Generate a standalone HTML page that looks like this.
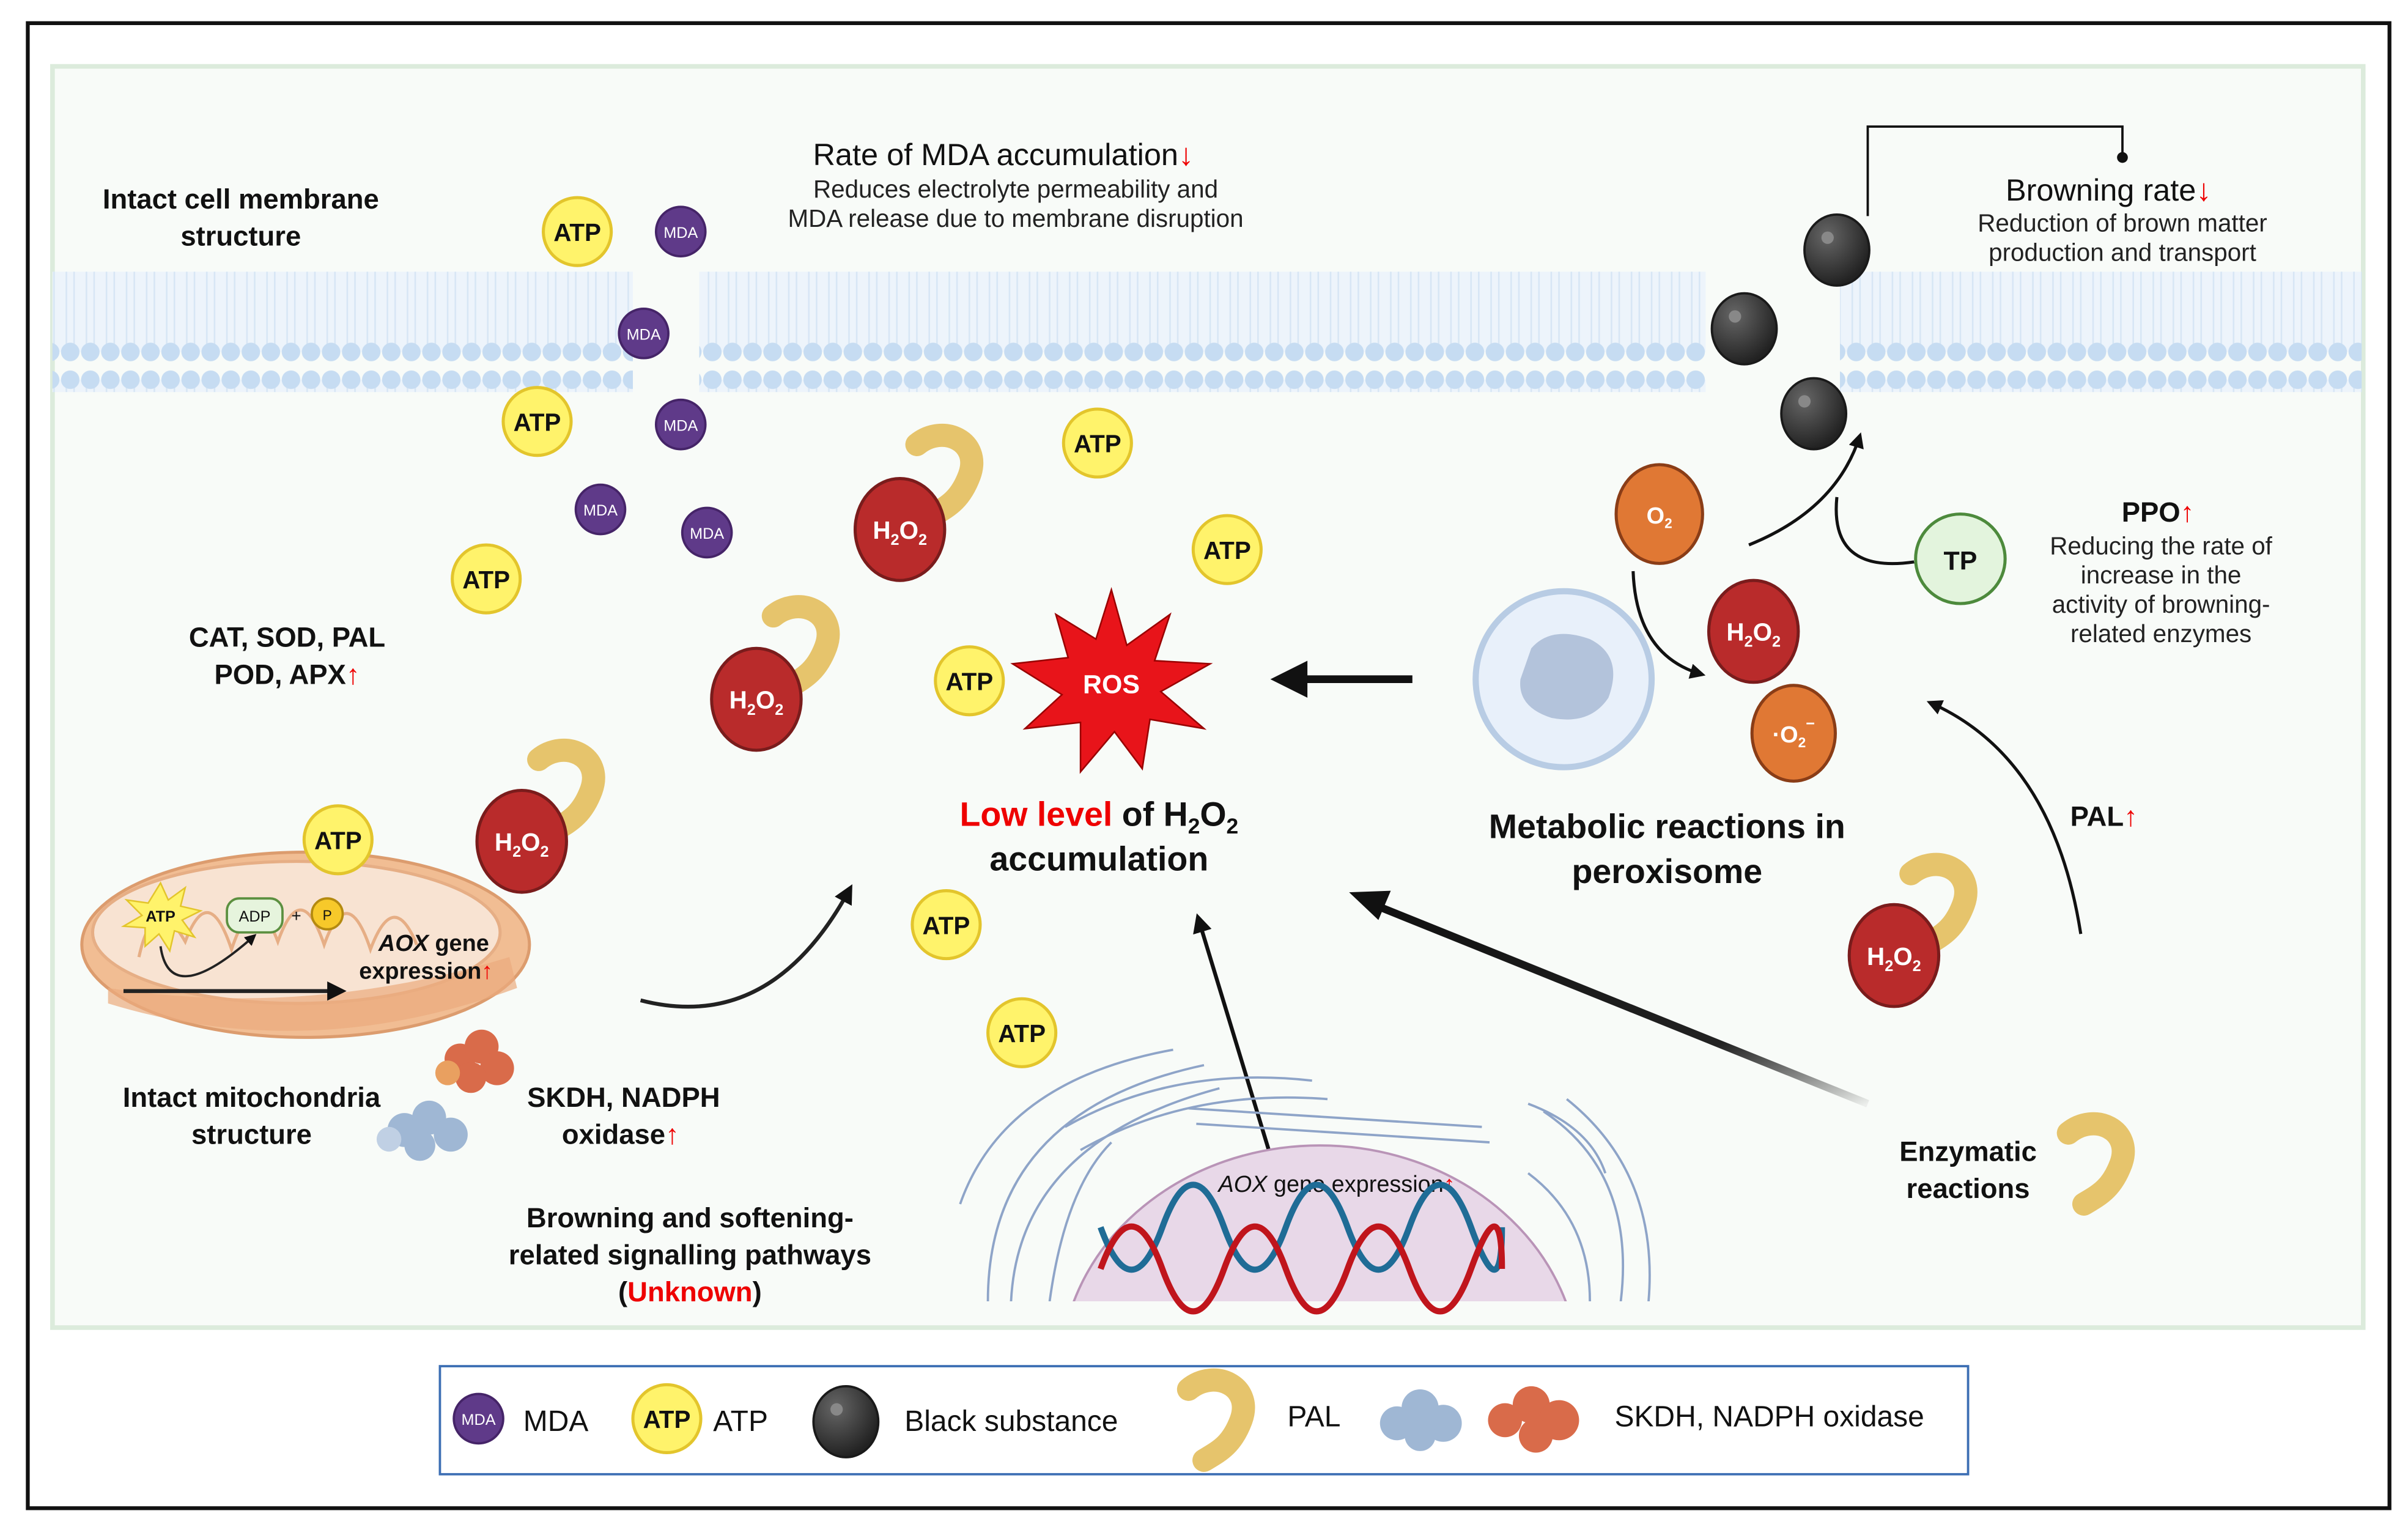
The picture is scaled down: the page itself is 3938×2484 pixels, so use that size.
<!DOCTYPE html>
<html><head><meta charset="utf-8"><style>
html,body{margin:0;padding:0;background:#fff;width:3938px;height:2484px;overflow:hidden}
svg{display:block;position:absolute;left:0;top:0}
text{font-family:"Liberation Sans",sans-serif}
</style></head><body>
<svg width="3938" height="2484" viewBox="0 0 1560 984" preserveAspectRatio="none" xmlns="http://www.w3.org/2000/svg">
<defs>
<pattern id="dots" x="0" y="0" width="13" height="80" patternUnits="userSpaceOnUse">
<rect x="0" y="6" width="13" height="62" fill="#edf4fb"/>
<line x1="4" y1="8" x2="4" y2="66" stroke="#d7e6f5" stroke-width="1"/>
<line x1="9" y1="8" x2="9" y2="66" stroke="#d7e6f5" stroke-width="1"/>
<circle cx="6.5" cy="6" r="6" fill="#c6dcf2"/>
<circle cx="6.5" cy="68" r="6" fill="#c6dcf2"/>
</pattern>
<radialGradient id="blk" cx="0.35" cy="0.3" r="0.7"><stop offset="0" stop-color="#666"/><stop offset="1" stop-color="#222"/></radialGradient>
<linearGradient id="fade" x1="1" y1="1" x2="0" y2="0"><stop offset="0" stop-color="#000" stop-opacity="0.05"/><stop offset="0.3" stop-color="#222"/><stop offset="1" stop-color="#111"/></linearGradient>
<marker id="ah" viewBox="0 0 10 10" refX="8" refY="5" markerWidth="5" markerHeight="5" orient="auto"><path d="M0,0 L10,5 L0,10 z" fill="#111"/></marker>
<g id="atp"><circle r="22" fill="#fff36b" stroke="#e3c52c" stroke-width="2"/><text y="6" text-anchor="middle" font-size="16" font-weight="bold" fill="#111">ATP</text></g>
<g id="mda"><circle r="16" fill="#5f3a89" stroke="#452468" stroke-width="1.5"/><text y="4" text-anchor="middle" font-size="10" fill="#fff">MDA</text></g>
<g id="h2o2"><ellipse rx="29" ry="33" fill="#b92b2b" stroke="#7a1c1c" stroke-width="2"/><text y="6" text-anchor="middle" font-size="16" font-weight="bold" fill="#fff">H<tspan font-size="10" dy="4">2</tspan><tspan dy="-4">O</tspan><tspan font-size="10" dy="4">2</tspan></text></g>
<g id="pal"><path d="M-12,-18 C5,-32 30,-20 22,2 C16,18 8,22 -2,28" fill="none" stroke="#e6c46c" stroke-width="15" stroke-linecap="round"/></g>
<g id="ball"><ellipse rx="21" ry="23" fill="url(#blk)" stroke="#1a1a1a" stroke-width="1.5"/><circle cx="-6" cy="-8" r="4" fill="#888"/></g>
</defs>
<rect x="0" y="0" width="1560" height="984" fill="#fff"/>
<rect x="18" y="15" width="1530" height="962" fill="#fff" stroke="#111" stroke-width="2.5"/>
<rect x="34" y="43" width="1497" height="817" fill="#f8fbf8" stroke="#dcebdc" stroke-width="3"/>
<rect x="34" y="176" width="376" height="78" fill="url(#dots)"/>
<rect x="453" y="176" width="652" height="78" fill="url(#dots)"/>
<rect x="1192" y="176" width="338" height="78" fill="url(#dots)"/>
<text x="156" y="135" text-anchor="middle" font-size="18" font-weight="bold" fill="#111">Intact cell membrane</text>
<text x="156" y="159" text-anchor="middle" font-size="18" font-weight="bold" fill="#111">structure</text>
<text x="650" y="107" text-anchor="middle" font-size="20" fill="#111">Rate of MDA accumulation<tspan fill="#e00" font-weight="bold">↓</tspan></text>
<text x="658" y="128" text-anchor="middle" font-size="16" fill="#222">Reduces electrolyte permeability and</text>
<text x="658" y="147" text-anchor="middle" font-size="16" fill="#222">MDA release due to membrane disruption</text>
<path d="M1210,140 V82 H1375 V102" fill="none" stroke="#111" stroke-width="1.5"/>
<circle cx="1375" cy="102" r="3.5" fill="#111"/>
<text x="1366" y="130" text-anchor="middle" font-size="20" fill="#111">Browning rate<tspan fill="#e00" font-weight="bold">↓</tspan></text>
<text x="1375" y="150" text-anchor="middle" font-size="16" fill="#222">Reduction of brown matter</text>
<text x="1375" y="169" text-anchor="middle" font-size="16" fill="#222">production and transport</text>
<text x="1398" y="338" text-anchor="middle" font-size="18" font-weight="bold" fill="#111">PPO<tspan fill="#e00">↑</tspan></text>
<text x="1400" y="359" text-anchor="middle" font-size="16" fill="#222">Reducing the rate of</text>
<text x="1400" y="378" text-anchor="middle" font-size="16" fill="#222">increase in the</text>
<text x="1400" y="397" text-anchor="middle" font-size="16" fill="#222">activity of browning-</text>
<text x="1400" y="416" text-anchor="middle" font-size="16" fill="#222">related enzymes</text>
<text x="186" y="419" text-anchor="middle" font-size="18" font-weight="bold" fill="#111">CAT, SOD, PAL</text>
<text x="186" y="443" text-anchor="middle" font-size="18" font-weight="bold" fill="#111">POD, APX<tspan fill="#e00">↑</tspan></text>
<text x="1363" y="535" text-anchor="middle" font-size="18" font-weight="bold" fill="#111">PAL<tspan fill="#e00">↑</tspan></text>
<path d="M415,648 Q500,670 551,575" fill="none" stroke="#222" stroke-width="2.5" marker-end="url(#ah)"/>
<path d="M825,755 L776,594" fill="none" stroke="#111" stroke-width="2.5" marker-end="url(#ah)"/>
<path d="M1210,715 L890,586" fill="none" stroke="url(#fade)" stroke-width="5"/>
<path d="M874,578 L901,577 L893,596 z" fill="#111"/>
<path d="M915,440 L838,440" stroke="#111" stroke-width="5"/>
<path d="M823,440 L847,428 L847,452 z" fill="#111"/>
<path d="M1133,353 Q1190,330 1205,282" fill="none" stroke="#111" stroke-width="2" marker-end="url(#ah)"/>
<path d="M1240,364 Q1185,372 1190,322" fill="none" stroke="#111" stroke-width="2"/>
<path d="M1058,370 Q1060,425 1103,437" fill="none" stroke="#111" stroke-width="2" marker-end="url(#ah)"/>
<path d="M1348,605 Q1330,490 1250,455" fill="none" stroke="#111" stroke-width="2" marker-end="url(#ah)"/>
<use href="#atp" x="374" y="150"/><use href="#atp" x="348" y="273"/><use href="#atp" x="315" y="375"/>
<use href="#atp" x="711" y="287"/><use href="#atp" x="795" y="356"/><use href="#atp" x="628" y="441"/>
<use href="#atp" x="613" y="599"/><use href="#atp" x="662" y="669"/>
<use href="#mda" x="441" y="150"/><use href="#mda" x="417" y="216"/><use href="#mda" x="441" y="275"/>
<use href="#mda" x="389" y="330"/><use href="#mda" x="458" y="345"/>
<use href="#pal" x="606" y="306"/><use href="#h2o2" x="583" y="343"/>
<use href="#pal" x="513" y="417"/><use href="#h2o2" x="490" y="453"/>
<use href="#pal" x="361" y="510"/><use href="#h2o2" x="338" y="545"/>
<use href="#pal" x="1250" y="584"/><use href="#h2o2" x="1227" y="619"/>
<use href="#h2o2" x="1136" y="409"/>
<ellipse cx="1075" cy="333" rx="28" ry="32" fill="#e07834" stroke="#8a3d17" stroke-width="2"/>
<text x="1075" y="339" text-anchor="middle" font-size="15" font-weight="bold" fill="#fff">O<tspan font-size="9" dy="3">2</tspan></text>
<ellipse cx="1162" cy="475" rx="27" ry="31" fill="#e07834" stroke="#8a3d17" stroke-width="2"/>
<text x="1162" y="481" text-anchor="middle" font-size="15" font-weight="bold" fill="#fff">·O<tspan font-size="9" dy="3">2</tspan><tspan font-size="10" dy="-12">−</tspan></text>
<use href="#ball" x="1190" y="162"/><use href="#ball" x="1130" y="213"/><use href="#ball" x="1175" y="268"/>
<circle cx="1270" cy="362" r="29" fill="#e3f4dd" stroke="#4d8a3c" stroke-width="2"/>
<text x="1270" y="369" text-anchor="middle" font-size="17" font-weight="bold" fill="#111">TP</text>
<circle cx="1013" cy="440" r="57" fill="#e8f0fa" stroke="#b8cce4" stroke-width="4"/>
<path d="M992,420 Q1005,405 1030,414 Q1052,425 1042,452 Q1030,470 1005,465 Q983,458 985,440 z" fill="#b3c3db"/>
<text x="1080" y="543" text-anchor="middle" font-size="22" font-weight="bold" fill="#111">Metabolic reactions in</text>
<text x="1080" y="572" text-anchor="middle" font-size="22" font-weight="bold" fill="#111">peroxisome</text>
<path d="M720,382 L730,418 L758,398 L748,428 L784,430 L752,448 L780,472 L745,466 L740,498 L722,474 L700,500 L700,468 L664,472 L688,450 L656,430 L692,426 L684,398 L710,414 z" fill="#e8141a" stroke="#900" stroke-width="1"/>
<text x="720" y="449" text-anchor="middle" font-size="17" font-weight="bold" fill="#fff">ROS</text>
<text x="712" y="535" text-anchor="middle" font-size="22" font-weight="bold" fill="#111"><tspan fill="#e00">Low level</tspan> of H<tspan font-size="14" dy="5">2</tspan><tspan dy="-5">O</tspan><tspan font-size="14" dy="5">2</tspan></text>
<text x="712" y="564" text-anchor="middle" font-size="22" font-weight="bold" fill="#111">accumulation</text>
<ellipse cx="198" cy="612" rx="145" ry="60" fill="#f1bd93" stroke="#dc9c6e" stroke-width="2"/>
<ellipse cx="192" cy="604" rx="132" ry="46" fill="#f8e3d2" stroke="#e6ae85" stroke-width="2"/>
<path d="M70,640 Q200,660 330,620 L335,640 Q200,690 70,650z" fill="#ebab7d" opacity="0.7"/>
<path d="M90,620 Q100,575 120,610 Q135,570 150,615 Q165,570 180,610 Q195,568 210,612 Q225,570 240,615 Q255,575 270,612" fill="none" stroke="#e6ae85" stroke-width="2"/>
<polygon points="104,572 109,583 120,575 117,587 130,590 118,596 126,607 113,603 110,616 103,605 94,613 94,601 80,600 92,593 82,583 96,585" fill="#fff36b" stroke="#e3c52c"/>
<text x="104" y="597" text-anchor="middle" font-size="10" font-weight="bold" fill="#111">ATP</text>
<rect x="147" y="582" width="36" height="22" rx="8" fill="#e6f4dd" stroke="#5c9040" stroke-width="1.5"/>
<text x="165" y="597" text-anchor="middle" font-size="10" fill="#111">ADP</text>
<text x="192" y="597" text-anchor="middle" font-size="11" fill="#111">+</text>
<circle cx="212" cy="592" r="10" fill="#f7c92a" stroke="#b48a10" stroke-width="1.5"/>
<text x="212" y="596" text-anchor="middle" font-size="9" fill="#111">P</text>
<path d="M104,613 Q110,655 165,606" fill="none" stroke="#222" stroke-width="1.5" marker-end="url(#ah)"/>
<path d="M80,642 L222,642" stroke="#222" stroke-width="2.5" marker-end="url(#ah)"/>
<text x="281" y="616" text-anchor="middle" font-size="15" font-weight="bold" fill="#111"><tspan font-style="italic">AOX</tspan> gene</text>
<text x="276" y="634" text-anchor="middle" font-size="15" font-weight="bold" fill="#111">expression<tspan fill="#e00">↑</tspan></text>
<use href="#atp" x="219" y="544"/>
<g fill="#d96b4a"><circle cx="298" cy="686" r="10"/><circle cx="312" cy="678" r="11"/><circle cx="322" cy="692" r="11"/><circle cx="305" cy="698" r="10"/><circle cx="290" cy="695" r="8" fill="#e9a060"/></g>
<g fill="#9fb7d4"><circle cx="262" cy="732" r="11"/><circle cx="278" cy="724" r="11"/><circle cx="292" cy="735" r="11"/><circle cx="272" cy="742" r="10"/><circle cx="252" cy="738" r="8" fill="#c0d0e4"/></g>
<text x="163" y="717" text-anchor="middle" font-size="18" font-weight="bold" fill="#111">Intact mitochondria</text>
<text x="163" y="741" text-anchor="middle" font-size="18" font-weight="bold" fill="#111">structure</text>
<text x="404" y="717" text-anchor="middle" font-size="18" font-weight="bold" fill="#111">SKDH, NADPH</text>
<text x="402" y="741" text-anchor="middle" font-size="18" font-weight="bold" fill="#111">oxidase<tspan fill="#e00">↑</tspan></text>
<text x="447" y="795" text-anchor="middle" font-size="18" font-weight="bold" fill="#111">Browning and softening-</text>
<text x="447" y="819" text-anchor="middle" font-size="18" font-weight="bold" fill="#111">related signalling pathways</text>
<text x="447" y="843" text-anchor="middle" font-size="18" font-weight="bold" fill="#111">(<tspan fill="#e00">Unknown</tspan>)</text>
<clipPath id="cl"><rect x="600" y="660" width="490" height="183"/></clipPath>
<g clip-path="url(#cl)">
<g fill="none" stroke="#8ea4c8" stroke-width="1.5">
<path d="M640,843 Q640,720 780,690"/><path d="M655,843 Q660,740 790,705"/><path d="M622,780 Q650,700 760,680"/>
<path d="M690,730 Q760,690 850,700"/><path d="M700,745 Q770,705 860,712"/><path d="M770,718 L960,730"/><path d="M775,728 L965,740"/>
<path d="M1050,843 Q1060,760 1000,720"/><path d="M1068,843 Q1075,760 1015,712"/><path d="M990,715 Q1030,730 1040,760"/>
<path d="M680,843 Q690,770 720,740"/><path d="M1030,843 Q1030,790 990,760"/>
</g>
<ellipse cx="855" cy="890" rx="168" ry="148" fill="#e8d8e8" stroke="#b994b7" stroke-width="1.5"/>
</g>
<text x="866" y="772" text-anchor="middle" font-size="15" fill="#111"><tspan font-style="italic">AOX</tspan> gene expression<tspan fill="#e00" font-weight="bold">↑</tspan></text>
<path d="M713,795 Q733,850 753,795 T793,795 T833,795 T873,795 T913,795 T953,795 T973,795" fill="none" stroke="#1f6c96" stroke-width="4"/>
<path d="M713,822 Q733,767 753,822 T793,822 T833,822 T873,822 T913,822 T953,822 T973,822" fill="none" stroke="#c0151c" stroke-width="4"/>
<text x="1275" y="752" text-anchor="middle" font-size="18" font-weight="bold" fill="#111">Enzymatic</text>
<text x="1275" y="776" text-anchor="middle" font-size="18" font-weight="bold" fill="#111">reactions</text>
<use href="#pal" x="1352" y="752"/>
<rect x="285" y="885" width="990" height="70" fill="#fff" stroke="#3d6fb4" stroke-width="1.5"/>
<use href="#mda" x="310" y="919"/>
<text x="339" y="927" font-size="19" fill="#111">MDA</text>
<use href="#atp" x="432" y="919"/>
<text x="462" y="927" font-size="19" fill="#111">ATP</text>
<use href="#ball" x="548" y="921"/>
<text x="586" y="927" font-size="19" fill="#111">Black substance</text>
<use href="#pal" x="782" y="918"/>
<text x="834" y="924" font-size="19" fill="#111">PAL</text>
<g fill="#9fb7d4"><circle cx="905" cy="922" r="11"/><circle cx="920" cy="912" r="12"/><circle cx="935" cy="922" r="12"/><circle cx="920" cy="930" r="10"/></g>
<g fill="#d96b4a"><circle cx="975" cy="920" r="11"/><circle cx="992" cy="910" r="12"/><circle cx="1010" cy="920" r="13"/><circle cx="995" cy="930" r="11"/></g>
<text x="1046" y="924" font-size="19" fill="#111">SKDH, NADPH oxidase</text>
</svg>
</body></html>
